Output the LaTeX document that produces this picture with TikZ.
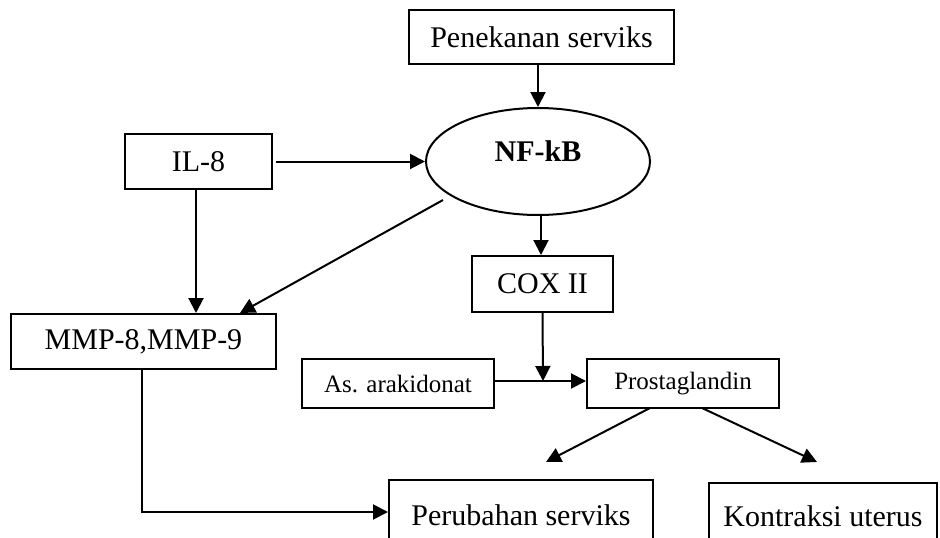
\documentclass[tikz,border=0pt]{standalone}
\usepackage{fontspec}
\setmainfont{Liberation Serif}
\usetikzlibrary{arrows.meta,shapes.geometric}
\begin{document}
\begin{tikzpicture}[x=1pt,y=-1pt,
  box/.style={draw,line width=2pt,inner sep=0pt,align=center,font=\fontsize{30}{34}\selectfont},
  smallbox/.style={box,font=\fontsize{25}{28}\selectfont},
  arr/.style={line width=2pt,-{Triangle[length=15pt,width=15pt]}},
  ln/.style={line width=2pt}]
\useasboundingbox (0,0) rectangle (940,538);
\clip (0,0) rectangle (940,538);
\node[box,minimum width=265pt,minimum height=54pt] (pen) at (541.5,37) {Penekanan serviks};
\node[box,minimum width=147pt,minimum height=55pt] (il8) at (198.5,161.5) {IL-8};
\node[draw,line width=2pt,ellipse,inner sep=0pt,minimum width=224pt,minimum height=107pt,
  label={[font=\fontsize{30}{34}\selectfont\bfseries,yshift=10pt]center:NF-kB}] (nf) at (538,161.5) {};
\node[box,minimum width=265pt,minimum height=55pt] (mmp) at (143.5,341.5) {MMP-8,MMP-9};
\node[box,minimum width=141pt,minimum height=56pt] (cox) at (542.5,284) {COX II};
\node[smallbox,minimum width=192pt,minimum height=49pt] (as) at (398,383.5) {As. arakidonat};
\node[smallbox,minimum width=192pt,minimum height=49pt] (pg) at (683,383.5) {Prostaglandin};
\node[box,minimum width=264pt,minimum height=70pt] (pc) at (521,515) {Perubahan serviks};
\node[box,minimum width=228pt,minimum height=67pt] (ku) at (823,516.5) {Kontraksi uterus};
\coordinate (d1) at (443,200);
\coordinate (d2) at (240,313);
\coordinate (j) at (543,381);
\coordinate (t1) at (546,462);
\coordinate (t2) at (817,462);
\coordinate (p1) at (650,408);
\coordinate (p2) at (702,408);
\coordinate (m1) at (142,369);
\coordinate (m2) at (142,512);
\draw[arr] (pen.south -| nf.north) -- (nf.north);
\draw[arr] ([xshift=3pt]il8.east) -- (nf.west);
\draw[arr] ([xshift=-2.5pt]il8.south) -- ([xshift=52.5pt]mmp.north);
\draw[arr] (d1) -- (d2);
\draw[arr] ([xshift=3pt]nf.south) -- ([xshift=3pt]nf.south |- cox.north);
\draw[arr] (cox.south) -- (j);
\draw[arr] (as.east |- j) -- (pg.west |- j);
\draw[arr] (p1) -- (t1);
\draw[arr] (p2) -- (t2);
\draw[arr] (m1) -- (m2) -- (pc.west |- m2);
\end{tikzpicture}
\end{document}
